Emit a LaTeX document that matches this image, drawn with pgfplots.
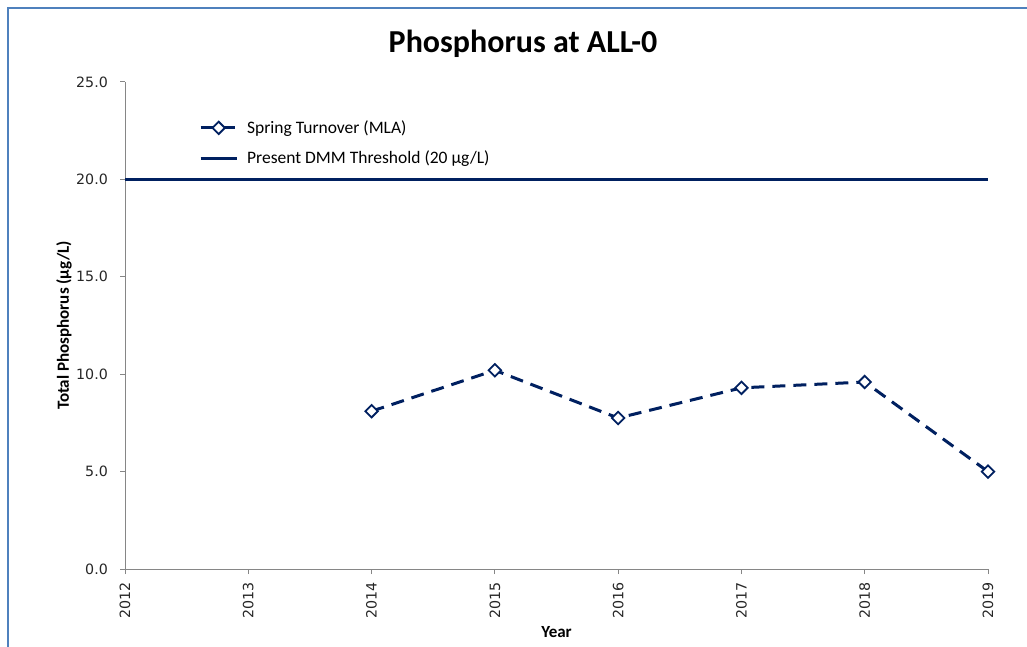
\documentclass[border=0pt]{standalone}
\usepackage{fontspec}
\setmainfont{Carlito}
\newfontfamily\tickfont{DejaVu Sans}
\usepackage{pgfplots}
\pgfplotsset{compat=1.18}
\definecolor{navy}{RGB}{0,32,96}
\definecolor{frameblue}{RGB}{79,129,189}
\definecolor{axgray}{RGB}{134,134,134}
\definecolor{ticktext}{RGB}{38,38,38}
\begin{document}
\begin{tikzpicture}
\path[use as bounding box] (0,0) rectangle (1027bp,647bp);
\draw[frameblue, line width=2.2bp] (8bp,-2bp) -- (8bp,639bp) -- (1030bp,639bp);
\node[font=\bfseries\fontsize{32bp}{36bp}\selectfont] at (523bp,603bp) {Phosphorus at ALL-0};
\begin{axis}[
  at={(125bp,78bp)}, anchor=south west,
  scale only axis, width=863bp, height=487bp,
  xmin=2012, xmax=2019, ymin=0, ymax=25,
  xtick={2012,2013,2014,2015,2016,2017,2018,2019},
  xticklabels={2012,2013,2014,2015,2016,2017,2018,2019},
  ytick={0,5,10,15,20,25},
  axis lines=left,
  axis line style={-, draw=axgray, line width=1bp},
  tick style={draw=axgray, line width=1bp},
  tick align=outside, major tick length=5bp,
  /pgf/number format/assume math mode=true,
  ticklabel style={font=\tickfont\fontsize{14.2bp}{16bp}\selectfont, text=ticktext},
  yticklabel style={anchor=east, inner xsep=12bp, /pgf/number format/fixed, /pgf/number format/fixed zerofill, /pgf/number format/precision=1},
  xticklabel style={rotate=90, anchor=east, inner xsep=8bp},
  xlabel={Year}, ylabel={Total Phosphorus (µg/L)},
  label style={font=\bfseries\fontsize{17bp}{20bp}\selectfont},
  xlabel style={at={(axis description cs:0.5,-0.129)}, anchor=center},
  ylabel style={at={(axis description cs:-0.0707,0.5)}, anchor=center, rotate=0},
  clip=false,
  legend cell align=left,
  legend style={at={(axis description cs:0.0857,0.925)}, anchor=north west, draw=none, fill=none,
    font=\fontsize{17.5bp}{20bp}\selectfont, row sep=12bp, inner sep=0pt,
    nodes={inner xsep=9bp}},
  legend image code/.code={\draw[mark repeat=2,mark phase=2,#1] plot coordinates {(0bp,0bp) (18bp,0bp) (36bp,0bp)};},
]
\addplot[navy, line width=3bp, dash pattern=on 13bp off 8bp, mark=square*, mark size=4.4bp,
  mark options={solid, fill=white, rotate=45, line width=1.8bp}]
  coordinates {(2014,8.1) (2015,10.2) (2016,7.75) (2017,9.3) (2018,9.6) (2019,5.0)};
\addlegendentry{Spring Turnover (MLA)}
\addplot[navy, line width=3bp] coordinates {(2012,20) (2019,20)};
\addlegendentry{Present DMM Threshold (20 µg/L)}
\end{axis}
\end{tikzpicture}
\end{document}
